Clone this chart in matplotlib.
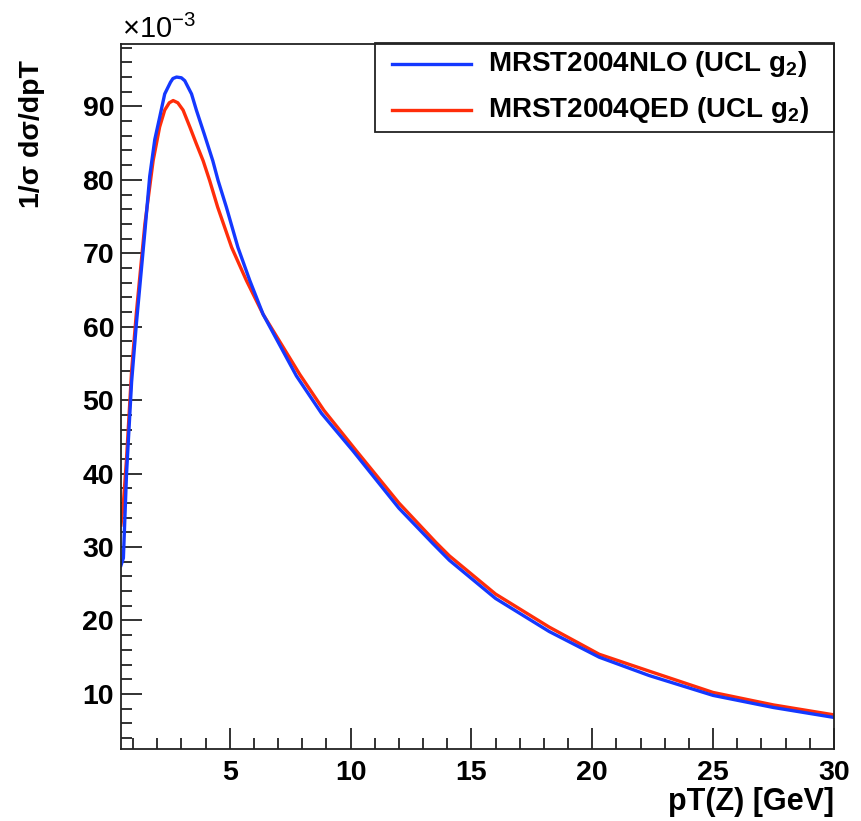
import matplotlib
matplotlib.use("Agg")
import matplotlib.pyplot as plt
from matplotlib.patches import Rectangle
from matplotlib.ticker import MultipleLocator

plt.rcParams['font.family'] = ['Liberation Sans', 'DejaVu Sans']
plt.rcParams['mathtext.fontset'] = 'custom'
plt.rcParams['mathtext.rm'] = 'Liberation Sans'
plt.rcParams['mathtext.bf'] = 'Liberation Sans:bold'

# values, y in units of 1e-3
nlo_pt = [0.5, 0.6, 0.73, 0.94, 1.14, 1.49, 1.69, 1.9, 2.1, 2.31, 2.55, 2.65, 2.8, 3.0, 3.14, 3.42,
          3.62, 3.95, 4.3, 4.52, 4.86, 5.34, 5.83, 6.38, 7.76, 8.8, 10.1, 12.0, 13.4, 14.09, 16.0,
          18.22, 20.29, 22.36, 25.0, 27.5, 30.0]
nlo_val = [27.5, 28.5, 40.0, 52.5, 60.5, 73.0, 80.5, 85.5, 88.5, 91.7, 93.3, 93.8, 94.0, 93.9, 93.5, 91.7,
           89.5, 86.2, 82.6, 79.9, 76.3, 70.8, 66.3, 61.7, 53.3, 48.2, 43.1, 35.3, 30.5, 28.2, 23.0,
           18.5, 15.0, 12.5, 9.8, 8.15, 6.8]

qed_pt = [0.5, 0.6, 0.73, 0.94, 1.14, 1.49, 1.83, 2.1, 2.31, 2.5, 2.66, 2.85, 3.07, 3.35, 3.62, 3.9,
          4.17, 4.5, 5.08, 5.69, 6.38, 7.9, 8.9, 10.24, 12.0, 13.54, 14.09, 16.0, 18.22, 20.29, 22.36,
          25.0, 27.5, 30.0]
qed_val = [33.0, 36.0, 42.0, 54.0, 62.0, 74.0, 82.6, 87.2, 89.5, 90.5, 90.8, 90.5, 89.5, 87.2, 84.9, 82.6,
           79.9, 76.3, 70.8, 66.3, 61.7, 53.5, 48.6, 43.1, 36.0, 30.6, 28.8, 23.6, 19.1, 15.4, 13.1,
           10.2, 8.5, 7.15]

labels = ['MRST2004NLO (UCL g$_\\mathbf{2}$)', 'MRST2004QED (UCL g$_\\mathbf{2}$)']
colors = ['#1438ff', '#ff2d0a']

fig = plt.figure(figsize=(8.61, 8.21), dpi=100)
ax = fig.add_axes([0.1405, 0.0877, 0.828, 0.8587])

ax.plot(qed_pt, qed_val, color=colors[1], lw=2.4)
ax.plot(nlo_pt, nlo_val, color=colors[0], lw=2.4)

ax.set_xlim(0.5, 30)
ax.set_ylim(2.5, 98.5)
ax.xaxis.set_major_locator(MultipleLocator(5))
ax.xaxis.set_minor_locator(MultipleLocator(1))
ax.yaxis.set_major_locator(MultipleLocator(10))
ax.yaxis.set_minor_locator(MultipleLocator(2))
ax.tick_params(which='both', direction='in', top=False, right=False, width=1.3, color='#222222')
ax.tick_params(which='major', length=15)
ax.tick_params(which='minor', length=8)
ax.tick_params(axis='x', pad=8)
ax.tick_params(axis='y', pad=5)
for lab in ax.get_xticklabels() + ax.get_yticklabels():
    lab.set_fontsize(20.5)
    lab.set_fontweight('bold')
for sp in ax.spines.values():
    sp.set_linewidth(1.3)
    sp.set_color('#222222')

# ROOT-like legend box
ax.add_patch(Rectangle((0.356, 0.875), 0.644, 0.126, transform=ax.transAxes,
                       fill=False, lw=1.3, ec='#222222', clip_on=False, zorder=5))
for i, yy in enumerate([0.9716, 0.906]):
    ax.plot([0.380, 0.491], [yy, yy], transform=ax.transAxes, color=colors[i], lw=2.4,
            clip_on=False, zorder=6)
    ax.text(0.515, yy, labels[i], transform=ax.transAxes, fontsize=20, fontweight='bold',
            va='center', ha='left', zorder=6)

fig.text(122 / 861, 1 - 38 / 821, '×10$^{-3}$', fontsize=21, ha='left', va='baseline')
fig.text(32 / 861, 1 - 60 / 821, '1/σ dσ/dpT', fontsize=20.5, fontweight='bold',
         rotation=90, ha='center', va='top')
fig.text(834 / 861, 1 - 802 / 821, 'pT(Z) [GeV]', fontsize=22, fontweight='bold',
         ha='right', va='center')

fig.savefig('out.png', dpi=100, facecolor='white')
